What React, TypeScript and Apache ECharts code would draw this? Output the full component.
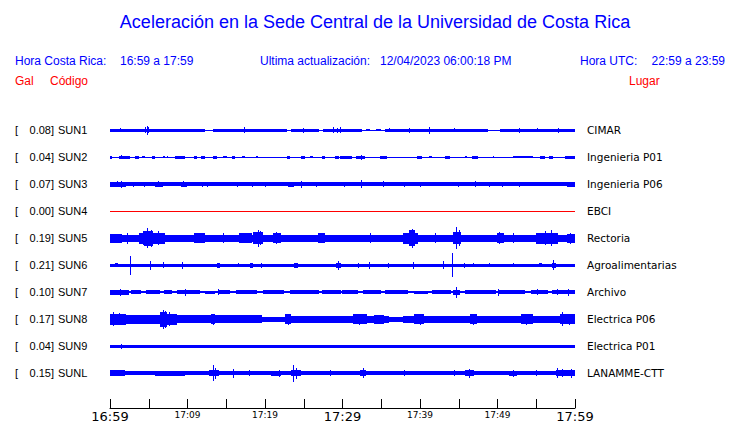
import React, { useEffect, useRef } from 'react';
import * as echarts from 'echarts';

// ---------- data ----------
const TITLE = 'Aceleración en la Sede Central de la Universidad de Costa Rica';
const HEADER_LOCAL = ['Hora Costa Rica:', '16:59 a 17:59'];
const HEADER_UPDATE = ['Ultima actualización:', '12/04/2023 06:00:18 PM'];
const HEADER_UTC = ['Hora UTC:', '22:59 a 23:59'];
const COLUMN_HEADS = ['Gal', 'Código', 'Lugar'];

const CODES = ['SUN1', 'SUN2', 'SUN3', 'SUN4', 'SUN5', 'SUN6', 'SUN7', 'SUN8', 'SUN9', 'SUNL'];
const PEAKS = [0.08, 0.04, 0.07, 0.0, 0.19, 0.21, 0.1, 0.17, 0.04, 0.15];
const PLACES = ['CIMAR', 'Ingenieria P01', 'Ingenieria P06', 'EBCI', 'Rectoria', 'Agroalimentarias', 'Archivo', 'Electrica P06', 'Electrica P01', 'LANAMME-CTT'];

const TIME_LABELS = ['16:59', '17:09', '17:19', '17:29', '17:39', '17:49', '17:59'];
const MAJOR_LABELS = ['16:59', '17:29', '17:59'];

// envelope segments: [start minute, end minute, half amplitude (Gal)]
// spikes: [minute, half amplitude (Gal)]
const SUN1_BANDS: number[][] = [[0, 12.2, 0.026], [13.3, 22.8, 0.024], [23.4, 27.0, 0.026], [27.5, 32.5, 0.026], [33.0, 33.6, 0.022], [34.3, 35.0, 0.02], [35.5, 48.8, 0.024], [50.3, 60, 0.026]];
const SUN1_SPIKES: number[][] = [[1.3, 0.035], [4.6, 0.05], [4.8, 0.08], [5.0, 0.055], [17.4, 0.055], [25.0, 0.04], [28.8, 0.05], [29.3, 0.045], [29.7, 0.05], [36.1, 0.035], [38.7, 0.045], [41.2, 0.065], [44.5, 0.035], [52.9, 0.045], [55.2, 0.035], [57.9, 0.04]];

const SUN2_BANDS: number[][] = [[0, 0.2, 0.026], [1.1, 2.6, 0.026], [3.2, 3.7, 0.024], [4.1, 4.5, 0.022], [5.4, 5.8, 0.024], [6.9, 7.1, 0.022], [7.3, 7.5, 0.022], [8.4, 9.7, 0.026], [10.8, 11.2, 0.024], [11.8, 12.3, 0.024], [13.3, 13.8, 0.024], [14.6, 15.1, 0.022], [15.7, 16.1, 0.024], [17.0, 17.4, 0.022], [18.9, 19.1, 0.02], [22.8, 23.2, 0.024], [24.7, 25.2, 0.024], [25.8, 26.2, 0.022], [27.3, 27.7, 0.024], [29.0, 29.5, 0.026], [29.7, 31.2, 0.026], [31.8, 32.9, 0.03], [34.8, 35.7, 0.024], [39.6, 40.2, 0.026], [41.1, 41.5, 0.022], [43.2, 43.9, 0.026], [45.8, 46.0, 0.02], [46.7, 47.5, 0.026], [49.4, 49.6, 0.02], [52.0, 54.6, 0.022], [55.5, 56.1, 0.024], [56.6, 57.2, 0.024], [58.7, 60, 0.026]];
const SUN2_SPIKES: number[][] = [[1.5, 0.035], [9.0, 0.03], [32.4, 0.04]];

const SUN3_BANDS: number[][] = [[0, 2, 0.045], [2, 60, 0.035], [5.8, 6.9, 0.042], [9.2, 9.9, 0.042], [23, 23.7, 0.042], [59, 60, 0.042]];
const SUN3_SPIKES: number[][] = [[1.0, 0.05], [1.5, 0.06], [3.0, 0.045], [4.4, 0.045], [6.3, 0.05], [9.5, 0.05], [11.9, 0.045], [12.6, 0.045], [16.5, 0.045], [18.4, 0.045], [20.0, 0.045], [24.7, 0.06], [26.6, 0.045], [30.3, 0.045], [32.5, 0.07], [35.3, 0.05], [38.0, 0.045], [40.1, 0.045], [45.0, 0.045], [47.1, 0.055], [49.0, 0.045], [50.6, 0.045], [52.9, 0.045], [59.3, 0.045]];

const SUN4_BANDS: number[][] = [];
const SUN4_SPIKES: number[][] = [];

const SUN5_BANDS: number[][] = [[0, 60, 0.062], [0, 1.5, 0.08], [3.7, 7.1, 0.1], [4.4, 5.6, 0.13], [10.8, 12.2, 0.085], [16.6, 18.3, 0.085], [18.5, 19.8, 0.11], [21, 22, 0.09], [26.9, 27.7, 0.085], [37.8, 39.8, 0.1], [38.6, 39.3, 0.14], [44.2, 45.3, 0.11], [49.9, 50.8, 0.09], [55, 57.8, 0.1], [59, 60, 0.08]];
const SUN5_SPIKES: number[][] = [[2.2, 0.1], [4.3, 0.12], [4.9, 0.18], [5.3, 0.15], [6.2, 0.12], [14.7, 0.09], [19.1, 0.15], [19.4, 0.12], [21.5, 0.11], [33.6, 0.09], [39.0, 0.165], [42.0, 0.09], [44.7, 0.19], [45.1, 0.14], [50.3, 0.11], [52.0, 0.09], [56.2, 0.12], [57.0, 0.14], [59.4, 0.1]];

const SUN6_BANDS: number[][] = [[0, 60, 0.026], [0.6, 1.0, 0.035], [13.8, 14.2, 0.04], [18.1, 18.5, 0.04], [23.7, 24.3, 0.04], [29.2, 29.8, 0.04], [55.3, 55.8, 0.035], [57.0, 57.5, 0.045]];
const SUN6_SPIKES: number[][] = [[2.6, 0.17], [5.2, 0.08], [6.9, 0.05], [9.3, 0.06], [16.6, 0.035], [19.6, 0.04], [29.5, 0.08], [32.0, 0.04], [33.5, 0.06], [35.9, 0.04], [39.1, 0.06], [43.0, 0.07], [44.2, 0.21], [45.8, 0.04], [46.9, 0.035], [49.0, 0.035], [52.0, 0.035], [57.2, 0.09]];

const SUN7_BANDS: number[][] = [[0, 60, 0.02], [0, 2.5, 0.04], [2.7, 4.0, 0.035], [4.6, 6.5, 0.035], [7.0, 8.0, 0.035], [8.6, 11.6, 0.035], [12.2, 13.5, 0.03], [14, 15.5, 0.035], [16.3, 19, 0.032], [19.7, 22.5, 0.035], [23.2, 27, 0.035], [27.4, 29.8, 0.035], [29.9, 32, 0.032], [32.6, 35, 0.035], [35.5, 38.5, 0.035], [39.2, 41, 0.03], [41.5, 44.0, 0.035], [44.3, 45.2, 0.045], [45.8, 49.8, 0.037], [50.2, 53.6, 0.035], [54.3, 56.5, 0.035], [57, 60, 0.035]];
const SUN7_SPIKES: number[][] = [[1.3, 0.06], [9.7, 0.06], [14.0, 0.05], [44.7, 0.1], [50.1, 0.06], [55.1, 0.05], [57.8, 0.055], [59.1, 0.06]];

const SUN8_BANDS: number[][] = [[0, 2, 0.1], [2, 6.5, 0.075], [6.5, 7.3, 0.13], [7.3, 8.6, 0.1], [8.6, 13.0, 0.07], [13.0, 13.6, 0.09], [13.6, 19.6, 0.07], [19.6, 22.6, 0.04], [22.6, 23.4, 0.09], [23.4, 31.4, 0.06], [31.4, 33.1, 0.085], [33.1, 34, 0.065], [34, 35.3, 0.08], [35.3, 36, 0.06], [36, 37.8, 0.045], [37.8, 39.2, 0.065], [39.2, 40.5, 0.085], [40.5, 46.5, 0.065], [46.5, 47.3, 0.085], [47.3, 53, 0.065], [53, 54.6, 0.085], [54.6, 58.1, 0.065], [58.1, 60, 0.085]];
const SUN8_SPIKES: number[][] = [[0.5, 0.12], [1.2, 0.11], [6.9, 0.17], [7.2, 0.15], [7.7, 0.12], [13.3, 0.1], [23.0, 0.1], [32.2, 0.1], [40.0, 0.1], [46.9, 0.1], [53.8, 0.1], [58.4, 0.12], [59.3, 0.1]];

const SUN9_BANDS: number[][] = [[0, 60, 0.028]];
const SUN9_SPIKES: number[][] = [[1.5, 0.04], [9.6, 0.03], [31.5, 0.03], [52.0, 0.03]];

const SUNL_BANDS: number[][] = [[0, 60, 0.035], [0, 1.9, 0.05], [5.8, 9.7, 0.045], [12.8, 14.0, 0.05], [20.8, 22, 0.045], [23.4, 24.6, 0.055], [32.3, 33, 0.05], [45.8, 47, 0.05], [51.5, 52.5, 0.045], [57.5, 60, 0.05]];
const SUNL_SPIKES: number[][] = [[13.3, 0.145], [13.6, 0.1], [15.9, 0.08], [18.0, 0.05], [21.9, 0.06], [23.7, 0.15], [24.0, 0.1], [28.5, 0.05], [32.7, 0.09], [38.0, 0.05], [44.4, 0.05], [46.4, 0.08], [52.0, 0.065], [55.0, 0.05], [57.8, 0.085], [58.4, 0.07], [59.5, 0.08]];

const TRACE_BANDS = [SUN1_BANDS, SUN2_BANDS, SUN3_BANDS, SUN4_BANDS, SUN5_BANDS, SUN6_BANDS, SUN7_BANDS, SUN8_BANDS, SUN9_BANDS, SUNL_BANDS];
const TRACE_SPIKES = [SUN1_SPIKES, SUN2_SPIKES, SUN3_SPIKES, SUN4_SPIKES, SUN5_SPIKES, SUN6_SPIKES, SUN7_SPIKES, SUN8_SPIKES, SUN9_SPIKES, SUNL_SPIKES];

// ---------- styling ----------
const BLUE = '#0000ff';
const RED = '#ff0000';
const ROW_PER_GAL = 2.1; // display gain: row spacings per Gal
const SANS = '"Liberation Sans", Arial, Helvetica, sans-serif';
const DEJAVU = '"DejaVu Sans", sans-serif';

export default function App() {
  const ref = useRef<HTMLDivElement>(null);

  useEffect(() => {
    if (!ref.current) return;
    const chart = echarts.init(ref.current, undefined, { renderer: 'svg' });

    const items: number[][] = [];
    TRACE_BANDS.forEach((bands, row) => {
      items.push([row, 0, 60, 0, 0]);
      bands.forEach(([a, b, amp]) => items.push([row, a, b, amp, 0]));
      TRACE_SPIKES[row].forEach(([t, amp]) => items.push([row, t, t, amp, 1]));
    });

    const graphics: any[] = [];
    const txt = (x: number, y: number, text: string, fill: string, size: number, family: string, align = 'left') => ({
      type: 'text', x, y, silent: true,
      style: { text, fill, fontSize: size, fontFamily: family, textAlign: align, textVerticalAlign: 'middle' },
    });
    graphics.push(txt(375, 22, TITLE, BLUE, 18, SANS, 'center'));
    graphics.push(txt(15, 61, HEADER_LOCAL[0], BLUE, 12, SANS));
    graphics.push(txt(120, 61, HEADER_LOCAL[1], BLUE, 12, SANS));
    graphics.push(txt(260, 61, HEADER_UPDATE[0], BLUE, 12, SANS));
    graphics.push(txt(380, 61, HEADER_UPDATE[1], BLUE, 12, SANS));
    graphics.push(txt(580, 61, HEADER_UTC[0], BLUE, 12, SANS));
    graphics.push(txt(725, 61, HEADER_UTC[1], BLUE, 12, SANS, 'right'));
    graphics.push(txt(15, 81, COLUMN_HEADS[0], RED, 12, SANS));
    graphics.push(txt(50, 81, COLUMN_HEADS[1], RED, 12, SANS));
    graphics.push(txt(629, 81, COLUMN_HEADS[2], RED, 12, SANS));
    CODES.forEach((code, i) => {
      const y = 130 + 27 * i;
      graphics.push(txt(15, y, '[', '#000', 11, SANS));
      graphics.push(txt(54, y, PEAKS[i].toFixed(2) + ']', '#000', 11, SANS, 'right'));
      graphics.push(txt(58, y, code, '#000', 11, SANS));
      graphics.push(txt(587, y, PLACES[i], '#000', 10.5, DEJAVU));
    });

    chart.setOption({
      animation: false,
      grid: [
        { left: 110, right: 165, top: 116.5, height: 270 },
        { left: 110, right: 165, top: 400, height: 9 },
      ],
      xAxis: [
        { gridIndex: 0, type: 'value', min: 0, max: 60, show: false },
        {
          gridIndex: 1, type: 'value', min: 0, max: 60, interval: 5,
          axisLine: { show: true, lineStyle: { color: '#000', width: 1 } },
          axisTick: { show: true, inside: true, length: 9, lineStyle: { color: '#000', width: 1 } },
          splitLine: { show: false },
          axisLabel: {
            margin: 1,
            showMinLabel: true,
            showMaxLabel: true,
            formatter: (v: number) => {
              if (v % 10 !== 0) return '';
              const lab = TIME_LABELS[v / 10];
              return MAJOR_LABELS.includes(lab) ? `{big|${lab}}` : `{small|${lab}}`;
            },
            rich: {
              big: { fontSize: 13, lineHeight: 15, fontFamily: DEJAVU, color: '#000' },
              small: { fontSize: 9, lineHeight: 11, fontFamily: DEJAVU, color: '#000' },
            },
          },
        },
      ],
      yAxis: [
        { gridIndex: 0, type: 'value', min: -0.5, max: 9.5, inverse: true, show: false },
        { gridIndex: 1, type: 'value', min: 0, max: 1, show: false },
      ],
      series: [
        {
          type: 'custom',
          xAxisIndex: 0,
          yAxisIndex: 0,
          clip: false,
          encode: { x: [1, 2], y: 0 },
          data: items,
          renderItem: (_p: any, api: any) => {
            const row = api.value(0) as number;
            const t0 = api.value(1) as number;
            const t1 = api.value(2) as number;
            const amp = api.value(3) as number;
            const kind = api.value(4) as number;
            const a = api.coord([t0, row - amp * ROW_PER_GAL]);
            const b = api.coord([t1, row + amp * ROW_PER_GAL]);
            let x0 = Math.round(a[0]);
            let x1 = Math.round(b[0]);
            if (kind === 1) { x0 = Math.floor(a[0]); x1 = x0 + 1; }
            if (x1 - x0 < 1) x1 = x0 + 1;
            // whole-pixel thickness, centred on the trace's baseline
            const h = Math.max(1, Math.round(Math.abs(b[1] - a[1])));
            const mid = (a[1] + b[1]) / 2;
            const y0 = Math.round(mid - h / 2);
            return {
              type: 'rect',
              shape: { x: x0, y: y0, width: x1 - x0, height: h },
              style: { fill: PEAKS[row] === 0 ? RED : BLUE },
            };
          },
        },
      ],
      graphic: { elements: graphics },
    });

    return () => chart.dispose();
  }, []);

  return <div ref={ref} style={{ position: 'fixed', left: 0, top: 0, width: 740, height: 423, background: '#fff' }} />;
}
